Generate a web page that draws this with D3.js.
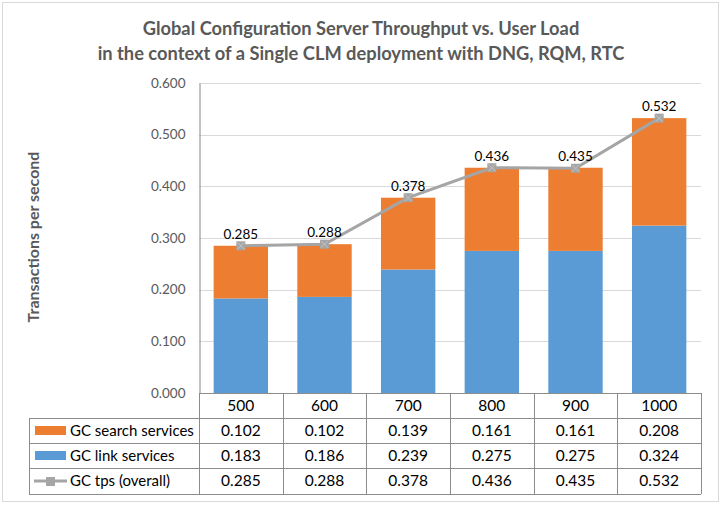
<!DOCTYPE html>
<html><head><meta charset="utf-8">
<script src="https://cdn.jsdelivr.net/npm/d3@7"></script>
<style>body{margin:0;background:#fff}svg{display:block}</style>
</head><body>
<svg id="c" width="721" height="507"></svg>
<script>
const categories = ["500","600","700","800","900","1000"];
const searchServices = [0.102,0.102,0.139,0.161,0.161,0.208];
const linkServices = [0.183,0.186,0.239,0.275,0.275,0.324];
const tpsOverall = [0.285,0.288,0.378,0.436,0.435,0.532];
const yTicks = [0,0.1,0.2,0.3,0.4,0.5,0.6];
const seriesNames = ["GC search services","GC link services","GC tps (overall)"];
const titleLines = ["Global Configuration Server Throughput vs. User Load","in the context of a Single CLM deployment with DNG, RQM, RTC"];
const yTitle = "Transactions per second";

(function(){
const FONT = "Lato, 'Open Sans', sans-serif";
const orange = "#ED7D31", blue = "#5B9BD5", grey = "#A5A5A5";
const svg = d3.select("#c");

svg.append("rect").attr("x",0).attr("y",0).attr("width",721).attr("height",507).attr("fill","#fff");
svg.append("rect").attr("x",2.5).attr("y",2.5).attr("width",716).attr("height",499)
  .attr("fill","#fff").attr("stroke","#D9D9D9");

svg.append("g").selectAll("text").data(titleLines).join("text")
  .attr("x",361).attr("y",(d,i)=>35+i*25).attr("text-anchor","middle")
  .attr("font-family",FONT).attr("font-weight","bold").attr("font-size",18.3)
  .attr("fill","#595959").text(d=>d);

const pLeft=199, pRight=701, pTop=83, pBottom=393;
const x = d3.scaleBand().domain(categories).range([pLeft,pRight]).paddingInner(0.35).paddingOuter(0.175);
const xc = d3.scaleBand().domain(categories).range([pLeft,pRight]);
const y = d3.scaleLinear().domain([0,0.6]).range([pBottom,pTop]);

svg.append("g").selectAll("line").data(yTicks.slice(1)).join("line")
  .attr("x1",pLeft).attr("x2",pRight).attr("y1",d=>Math.round(y(d))+0.5).attr("y2",d=>Math.round(y(d))+0.5)
  .attr("stroke","#D9D9D9");

const yAxis = d3.axisLeft(y).tickValues(yTicks).tickFormat(d3.format(".3f")).tickSize(0).tickPadding(14);
const ya = svg.append("g").attr("transform",`translate(${pLeft+0.5},0)`).call(yAxis);
ya.select(".domain").attr("stroke","#868686");
ya.selectAll("text").attr("font-family",FONT).attr("font-size",13.5).attr("fill","#595959");

svg.append("text").attr("transform","translate(39,237) rotate(-90)").attr("text-anchor","middle")
  .attr("font-family",FONT).attr("font-weight","bold").attr("font-size",16).attr("fill","#595959").text(yTitle);

const stackData = categories.map((c,i)=>({cat:c, link:linkServices[i], search:searchServices[i]}));
const stack = d3.stack().keys(["link","search"])(stackData);
const colors = {link:blue, search:orange};
svg.append("g").selectAll("g").data(stack).join("g").attr("fill",s=>colors[s.key])
  .selectAll("rect").data(s=>s).join("rect")
  .attr("x",d=>x(d.data.cat)).attr("width",x.bandwidth())
  .attr("y",d=>y(d[1])).attr("height",d=>y(d[0])-y(d[1]));

const cx = c => xc(c)+xc.bandwidth()/2;
const line = d3.line().x((d,i)=>cx(categories[i])).y(d=>y(d));
svg.append("path").datum(tpsOverall).attr("d",line).attr("fill","none").attr("stroke",grey).attr("stroke-width",3);
const mk = svg.append("g").selectAll("g").data(tpsOverall).join("g")
  .attr("transform",(d,i)=>`translate(${cx(categories[i])},${y(d)})`);
mk.append("rect").attr("x",-4.5).attr("y",-4.5).attr("width",9).attr("height",9).attr("fill",grey);
mk.append("path").attr("d","M-3.5,-3.5L3.5,3.5M-3.5,3.5L3.5,-3.5").attr("stroke","#c4c4c4").attr("stroke-width",1);
svg.append("g").selectAll("text").data(tpsOverall).join("text")
  .attr("x",(d,i)=>cx(categories[i])).attr("y",d=>y(d)-7).attr("text-anchor","middle")
  .attr("font-family",FONT).attr("font-size",13.5).attr("fill","#000").text(d=>d.toFixed(3));

const tableLeft=29, rowTops=[393,418,443,468,494];
const tg = svg.append("g");
const lc = "#8C8C8C";
tg.append("line").attr("x1",pLeft).attr("x2",pRight).attr("y1",pBottom+0.5).attr("y2",pBottom+0.5).attr("stroke",lc);
rowTops.slice(1).forEach(t=>{
  tg.append("line").attr("x1",tableLeft).attr("x2",pRight).attr("y1",t+0.5).attr("y2",t+0.5).attr("stroke",lc);
});
const vx = categories.map(c=>xc(c)).concat([pRight]);
vx.forEach(v=>{
  tg.append("line").attr("x1",Math.round(v)+0.5).attr("x2",Math.round(v)+0.5).attr("y1",pBottom).attr("y2",494).attr("stroke",lc);
});
tg.append("line").attr("x1",tableLeft+0.5).attr("x2",tableLeft+0.5).attr("y1",418).attr("y2",494).attr("stroke",lc);

tg.selectAll("text.h").data(categories).join("text").attr("class","h")
  .attr("x",c=>cx(c)).attr("y",411).attr("text-anchor","middle")
  .attr("font-family",FONT).attr("font-size",15.5).attr("fill","#000").text(d=>d);
const rows = [searchServices, linkServices, tpsOverall];
rows.forEach((r,ri)=>{
  const yy = rowTops[ri+1]+18;
  tg.append("g").selectAll("text").data(r).join("text")
    .attr("x",(d,i)=>cx(categories[i])).attr("y",yy).attr("text-anchor","middle")
    .attr("font-family",FONT).attr("font-size",15.5).attr("fill","#000").text(d=>d.toFixed(3));
  tg.append("text").attr("x",70).attr("y",yy).attr("font-family",FONT).attr("font-size",15).attr("fill","#000").text(seriesNames[ri]);
});
tg.append("rect").attr("x",35).attr("y",426).attr("width",31).attr("height",9).attr("fill",orange);
tg.append("rect").attr("x",35).attr("y",451).attr("width",31).attr("height",9).attr("fill",blue);
tg.append("line").attr("x1",34).attr("x2",67).attr("y1",481).attr("y2",481).attr("stroke",grey).attr("stroke-width",3);
tg.append("rect").attr("x",46).attr("y",477).attr("width",9).attr("height",9).attr("fill",grey);
})();
</script>
</body></html>
